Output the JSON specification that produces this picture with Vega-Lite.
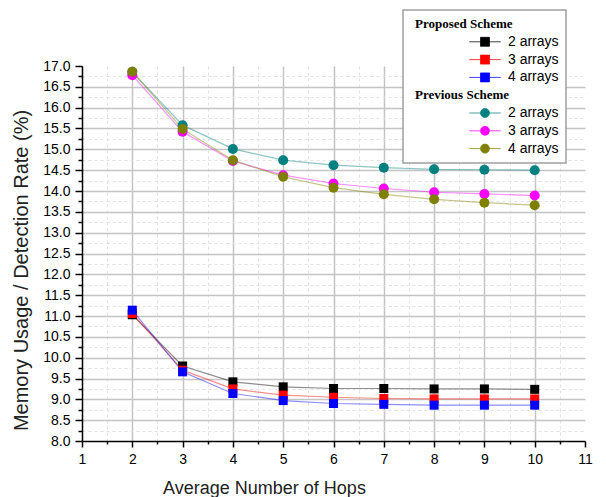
{
  "$schema": "https://vega.github.io/schema/vega-lite/v6.json",
  "width": 503,
  "height": 375,
  "autosize": {"type": "none"},
  "padding": {"left": 82, "top": 66, "right": 21, "bottom": 56},
  "background": "white",
  "config": {"view": {"stroke": null}, "font": "Liberation Sans"},
  "data": {"values": [
    {"series": "P2", "hops": 2, "value": 11.03},
    {"series": "P2", "hops": 3, "value": 9.80},
    {"series": "P2", "hops": 4, "value": 9.42},
    {"series": "P2", "hops": 5, "value": 9.30},
    {"series": "P2", "hops": 6, "value": 9.26},
    {"series": "P2", "hops": 7, "value": 9.26},
    {"series": "P2", "hops": 8, "value": 9.25},
    {"series": "P2", "hops": 9, "value": 9.25},
    {"series": "P2", "hops": 10, "value": 9.24},
    {"series": "P3", "hops": 2, "value": 11.06},
    {"series": "P3", "hops": 3, "value": 9.70},
    {"series": "P3", "hops": 4, "value": 9.25},
    {"series": "P3", "hops": 5, "value": 9.10},
    {"series": "P3", "hops": 6, "value": 9.05},
    {"series": "P3", "hops": 7, "value": 9.02},
    {"series": "P3", "hops": 8, "value": 9.01},
    {"series": "P3", "hops": 9, "value": 9.01},
    {"series": "P3", "hops": 10, "value": 9.01},
    {"series": "P4", "hops": 2, "value": 11.14},
    {"series": "P4", "hops": 3, "value": 9.66},
    {"series": "P4", "hops": 4, "value": 9.14},
    {"series": "P4", "hops": 5, "value": 8.97},
    {"series": "P4", "hops": 6, "value": 8.90},
    {"series": "P4", "hops": 7, "value": 8.88},
    {"series": "P4", "hops": 8, "value": 8.86},
    {"series": "P4", "hops": 9, "value": 8.86},
    {"series": "P4", "hops": 10, "value": 8.86},
    {"series": "Q2", "hops": 2, "value": 16.86},
    {"series": "Q2", "hops": 3, "value": 15.58},
    {"series": "Q2", "hops": 4, "value": 15.01},
    {"series": "Q2", "hops": 5, "value": 14.74},
    {"series": "Q2", "hops": 6, "value": 14.62},
    {"series": "Q2", "hops": 7, "value": 14.56},
    {"series": "Q2", "hops": 8, "value": 14.52},
    {"series": "Q2", "hops": 9, "value": 14.51},
    {"series": "Q2", "hops": 10, "value": 14.50},
    {"series": "Q3", "hops": 2, "value": 16.78},
    {"series": "Q3", "hops": 3, "value": 15.42},
    {"series": "Q3", "hops": 4, "value": 14.72},
    {"series": "Q3", "hops": 5, "value": 14.38},
    {"series": "Q3", "hops": 6, "value": 14.18},
    {"series": "Q3", "hops": 7, "value": 14.06},
    {"series": "Q3", "hops": 8, "value": 13.97},
    {"series": "Q3", "hops": 9, "value": 13.93},
    {"series": "Q3", "hops": 10, "value": 13.89},
    {"series": "Q4", "hops": 2, "value": 16.86},
    {"series": "Q4", "hops": 3, "value": 15.49},
    {"series": "Q4", "hops": 4, "value": 14.74},
    {"series": "Q4", "hops": 5, "value": 14.34},
    {"series": "Q4", "hops": 6, "value": 14.08},
    {"series": "Q4", "hops": 7, "value": 13.92},
    {"series": "Q4", "hops": 8, "value": 13.80},
    {"series": "Q4", "hops": 9, "value": 13.72},
    {"series": "Q4", "hops": 10, "value": 13.66}
  ]},
  "encoding": {
    "x": {
      "field": "hops", "type": "quantitative",
      "scale": {"domain": [1, 11], "nice": false, "zero": false},
      "axis": {
        "title": "Average Number of Hops",
        "values": [1, 1.5, 2, 2.5, 3, 3.5, 4, 4.5, 5, 5.5, 6, 6.5, 7, 7.5, 8, 8.5, 9, 9.5, 10, 10.5, 11],
        "labelExpr": "datum.value % 1 === 0 ? format(datum.value, 'd') : ''",
        "labelFontSize": 14, "labelColor": "black", "labelPadding": 5, "labelFlush": false,
        "domainColor": "black", "domainWidth": 1.5,
        "tickColor": "black", "tickWidth": 1.5,
        "tickSize": {"condition": {"test": "datum.value % 1 === 0", "value": 6}, "value": 3},
        "grid": true,
        "gridColor": {"condition": {"test": "datum.value % 1 === 0", "value": "#c4c4c4"}, "value": "#e2e2e2"},
        "gridDash": {"condition": {"test": "datum.value % 1 === 0", "value": []}, "value": [3, 3]},
        "gridWidth": {"condition": {"test": "datum.value % 1 === 0", "value": 1.5}, "value": 1},
        "gridOpacity": {"condition": {"test": "datum.value == 1 || datum.value == 11", "value": 0}, "value": 1},
        "titleFontSize": 18, "titleFontWeight": "normal", "titleColor": "#222",
        "titleX": 182, "titleY": 47, "titleAlign": "center", "titleBaseline": "middle"
      }
    },
    "y": {
      "field": "value", "type": "quantitative",
      "scale": {"domain": [8, 17], "nice": false, "zero": false},
      "axis": {
        "title": "Memory Usage / Detection Rate (%)",
        "values": [8, 8.25, 8.5, 8.75, 9, 9.25, 9.5, 9.75, 10, 10.25, 10.5, 10.75, 11, 11.25, 11.5, 11.75, 12, 12.25, 12.5, 12.75, 13, 13.25, 13.5, 13.75, 14, 14.25, 14.5, 14.75, 15, 15.25, 15.5, 15.75, 16, 16.25, 16.5, 16.75, 17],
        "labelExpr": "datum.value % 0.5 === 0 ? format(datum.value, '.1f') : ''",
        "labelFontSize": 14, "labelColor": "black", "labelPadding": 5, "labelFlush": false,
        "domainColor": "black", "domainWidth": 1.5,
        "tickColor": "black", "tickWidth": 1.5,
        "tickSize": {"condition": {"test": "datum.value % 0.5 === 0", "value": 7}, "value": 4},
        "grid": true,
        "gridColor": {"condition": {"test": "datum.value % 0.5 === 0", "value": "#c4c4c4"}, "value": "#e2e2e2"},
        "gridDash": {"condition": {"test": "datum.value % 0.5 === 0", "value": []}, "value": [3, 3]},
        "gridWidth": {"condition": {"test": "datum.value % 0.5 === 0", "value": 1.5}, "value": 1},
        "gridOpacity": {"condition": {"test": "datum.value == 8 || datum.value == 17", "value": 0}, "value": 1},
        "titleFontSize": 20, "titleFontWeight": "normal", "titleColor": "#222",
        "titleX": -61, "titleY": 204, "titleAlign": "center", "titleBaseline": "middle", "titleAngle": 270
      }
    },
    "color": {
      "field": "series", "type": "nominal",
      "scale": {
        "domain": ["PH", "P2", "P3", "P4", "QH", "Q2", "Q3", "Q4"],
        "range": ["white", "#000000", "#ff0000", "#0000ff", "white", "#008080", "#ff00ff", "#808000"]
      },
      "legend": {
        "orient": "none", "legendX": 321, "legendY": -56,
        "title": null,
        "padding": 7,
        "fillColor": "white", "strokeColor": "#a0a0a0",
        "symbolSize": 81, "symbolOffset": 68, "labelOffset": 16,
        "labelFontSize": 14, "labelFont": "Liberation Sans", "labelColor": "black",
        "rowPadding": 3.8,
        "labelExpr": "datum.value == 'PH' ? 'Proposed Scheme' : datum.value == 'QH' ? 'Previous Scheme' : slice(datum.value, 1) + ' arrays\u00a0\u00a0'",
        "encode": {
          "legend": {"update": {"strokeWidth": {"value": 1.5}}},
          "labels": {"update": {
            "font": {"signal": "datum.value == 'PH' || datum.value == 'QH' ? 'Liberation Serif' : 'Liberation Sans'"},
            "fontWeight": {"signal": "datum.value == 'PH' || datum.value == 'QH' ? 'bold' : 'normal'"},
            "fontSize": {"signal": "datum.value == 'PH' || datum.value == 'QH' ? 13 : 14"},
            "dx": {"signal": "datum.value == 'PH' || datum.value == 'QH' ? -93 : 0"}
          }},
          "symbols": {"update": {
            "shape": {"signal": "datum.value[0] == 'P' ? 'M-3.5,0H-1M1,0H3.5M-1,-1H1V1H-1Z' : 'M-3.5,0H-1M1,0H3.5M-1,0A1,1 0 1,1 1,0A1,1 0 1,1 -1,0Z'"},
            "fill": {"scale": "color", "field": "value"},
            "stroke": {"scale": "color", "field": "value"},
            "strokeWidth": {"value": 1},
            "strokeOpacity": {"value": 0.75},
            "fillOpacity": {"value": 1},
            "size": {"value": 81},
            "opacity": {"signal": "datum.value == 'PH' || datum.value == 'QH' ? 0 : 1"}
          }}
        }
      }
    }
  },
  "layer": [
    {
      "mark": {"type": "line", "strokeWidth": 1.2, "strokeOpacity": 0.45},
      "encoding": {}
    },
    {
      "mark": {"type": "point", "filled": true, "opacity": 1},
      "encoding": {
        "shape": {"condition": {"test": "datum.series[0] == 'P'", "value": "square"}, "value": "circle"},
        "size": {"condition": {"test": "datum.series[0] == 'P'", "value": 81}, "value": 100}
      }
    }
  ]
}
